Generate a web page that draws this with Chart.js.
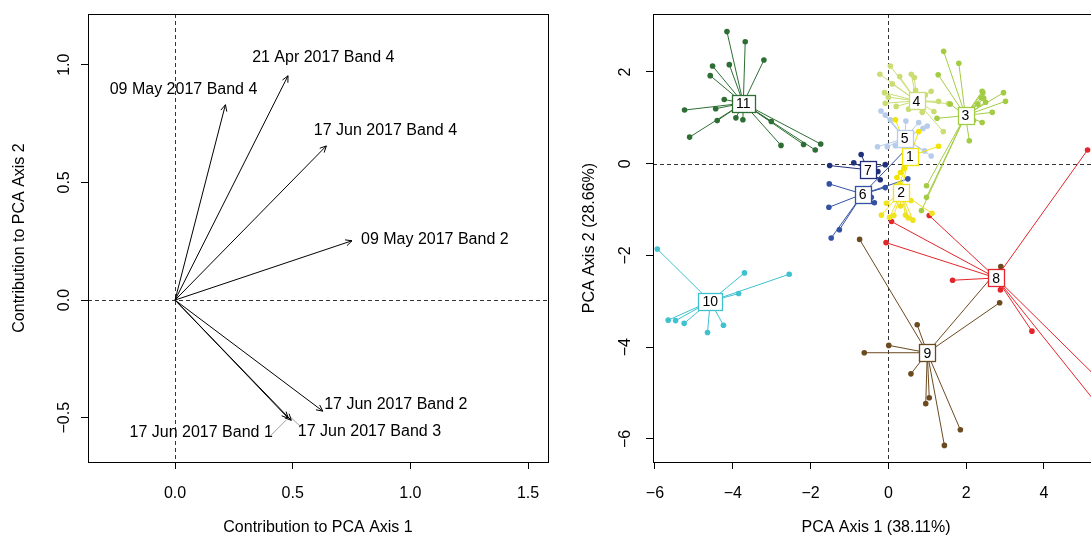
<!DOCTYPE html>
<html>
<head>
<meta charset="utf-8">
<script src="https://cdn.jsdelivr.net/npm/chart.js@4.4.1/dist/chart.umd.min.js"></script>
<style>
  html, body { margin: 0; padding: 0; background: #fff; overflow: hidden; width: 1091px; height: 538px; }
  #wrapL { position: absolute; left: 0; top: 0; width: 565px; height: 538px; }
  #wrapR { position: absolute; left: 565px; top: 0; width: 565px; height: 538px; }
</style>
</head>
<body>
<div id="wrapL"><canvas id="loadings" width="565" height="538"></canvas></div>
<div id="wrapR"><canvas id="scores" width="565" height="538"></canvas></div>

<script>
// ---- left panel: band loadings ----
const bandNames = ['21 Apr 2017 Band 4', '09 May 2017 Band 4', '17 Jun 2017 Band 4', '09 May 2017 Band 2',
                   '17 Jun 2017 Band 2', '17 Jun 2017 Band 3', '17 Jun 2017 Band 1']
const loadX = [0.480, 0.214, 0.643, 0.752, 0.628, 0.494, 0.481]
const loadY = [0.953, 0.830, 0.655, 0.252, -0.472, -0.511, -0.502]
const labelX = [0.630, 0.036, 0.894, 1.104, 0.938, 0.826, 0.111]
const labelY = [1.030, 0.894, 0.719, 0.255, -0.443, -0.560, -0.562]
// little leader lines next to the crowded labels (from, to)
const leaderX = [[0.408, 0.472], [0.489, 0.531]]
const leaderY = [[-0.574, -0.510], [-0.496, -0.535]]
const loadTicksX = [0, 0.5, 1, 1.5]
const loadTicksY = [-0.5, 0, 0.5, 1]

// ---- right panel: site scores by cluster ----
const clusterIds = ['1', '2', '3', '4', '5', '6', '7', '8', '9', '10', '11']
const clusterColors = ['#F2E400', '#EFE21F', '#A3CC44', '#C9DD73', '#B7CBEB', '#3352A3', '#22307A',
                       '#E3262B', '#6B4A1F', '#3FC1CF', '#2E6E34']
const centX = [0.55, 0.33, 1.98, 0.72, 0.42, -0.66, -0.53, 2.77, 1.00, -4.58, -3.73]
const centY = [0.16, -0.63, 1.05, 1.37, 0.55, -0.66, -0.13, -2.49, -4.12, -3.00, 1.32]

const c1x = [0.18, 0.78, 1.29, 0.31, 0.28, 0.33, 0.22, 0.40]
const c1y = [0.96, 0.70, 0.38, -0.19, -0.45, -0.55, -0.30, -0.10]
const c2x = [-0.05, -0.18, 0.03, 0.14, 0.31, 0.44, 0.51, 0.63, 0.58, 1.12]
const c2y = [-0.86, -1.12, -1.17, -1.13, -0.92, -1.12, -1.18, -1.23, -0.80, -1.08]
const c3x = [1.42, 1.81, 1.28, 2.41, 2.96, 3.01, 2.45, 2.30, 2.67, 2.41, 2.19, 1.25, 1.59, 2.08, 2.43, 2.39, 2.50, 0.98, 0.98, 0.85]
const c3y = [2.45, 2.19, 1.94, 1.58, 1.55, 1.36, 1.43, 1.30, 1.12, 0.90, 0.94, 0.99, 1.30, 0.50, 1.55, 1.44, 1.34, -0.48, -0.73, -1.02]
const c4x = [0.05, -0.22, 0.29, 0.59, 0.67, 0.10, 1.10, 0.95, -0.08, 0.52, 1.29, 1.55, 0.87, 1.17, 1.41, -0.10, 0.00, 0.20, 0.70]
const c4y = [2.13, 1.95, 1.90, 1.95, 1.88, 1.74, 1.58, 1.50, 1.32, 1.19, 1.36, 1.31, 1.12, 1.14, 0.70, 1.55, 1.45, 1.25, 1.60]
const c5x = [-0.19, -0.08, 0.05, 0.45, 0.78, 1.00, 0.89, -0.28, -0.03, 0.18, 0.58, 0.93, 1.10]
const c5y = [1.15, 1.06, 0.96, 0.93, 0.90, 0.82, 0.77, 0.37, 0.37, 0.39, 0.35, 0.28, 0.17]
const c6x = [-1.52, -1.53, -0.36, -0.44, -1.26, -1.47, 0.50, 0.55, -0.08]
const c6y = [-0.44, -0.95, -0.85, -0.73, -1.44, -1.62, -0.33, 0.40, -0.52]
const c7x = [-0.70, -0.89, -1.51, -0.08, -0.27, -0.21]
const c7y = [0.20, 0.02, -0.04, -0.02, -0.17, -0.35]
const c8x = [5.12, 1.05, 0.08, -0.06, 1.65, 2.88, 3.69, 5.60, 5.60]
const c8y = [0.30, -1.13, -1.26, -1.72, -2.54, -2.75, -3.65, -4.86, -5.49]
const c9x = [-0.74, 0.74, 0.01, -0.62, 0.58, 1.05, 0.96, 1.85, 1.44, 2.86, 2.89]
const c9y = [-1.65, -3.51, -3.96, -4.12, -4.58, -5.10, -5.23, -5.80, -6.14, -3.03, -2.24]
const c10x = [-5.94, -3.70, -2.55, -3.85, -5.66, -5.47, -5.25, -4.65, -4.24]
const c10y = [-1.86, -2.38, -2.41, -2.83, -3.41, -3.42, -3.48, -3.68, -3.52]
const c11x = [-4.15, -3.68, -3.20, -4.52, -4.09, -4.58, -4.22, -5.24, -4.44, -4.40, -3.92, -3.74, -5.11, -3.01, -2.76, -2.18, -1.88, -1.74]
const c11y = [2.88, 2.66, 2.26, 2.13, 2.16, 1.92, 1.40, 1.17, 1.20, 0.94, 1.00, 0.96, 0.58, 0.92, 0.40, 0.42, 0.30, 0.43]

const clusterX = [c1x, c2x, c3x, c4x, c5x, c6x, c7x, c8x, c9x, c10x, c11x]
const clusterY = [c1y, c2y, c3y, c4y, c5y, c6y, c7y, c8y, c9y, c10y, c11y]
const scoreTicksX = [-6, -4, -2, 0, 2, 4]
const scoreTicksY = [-6, -4, -2, 0, 2]

const FAMILY = '"Liberation Sans", Arial, Helvetica, sans-serif'
const FONT = { family: FAMILY, size: 16 }

function minus(s) { return s.replace('-', '\u2212') }

// R style box round the plot + dashed zero lines
const frame = {
  id: 'frame',
  beforeDatasetsDraw(chart) {
    const { ctx, chartArea: a, scales: { x, y } } = chart
    ctx.save()
    ctx.strokeStyle = '#333'
    ctx.lineWidth = 1
    ctx.setLineDash([4, 3])
    ctx.beginPath()
    const zx = Math.round(x.getPixelForValue(0)) + 0.5
    const zy = Math.round(y.getPixelForValue(0)) + 0.5
    ctx.moveTo(zx, a.top); ctx.lineTo(zx, a.bottom)
    ctx.moveTo(a.left, zy); ctx.lineTo(a.right, zy)
    ctx.stroke()
    ctx.restore()
  },
  afterDraw(chart) {
    const { ctx, chartArea: a } = chart
    ctx.save()
    ctx.strokeStyle = '#000'
    ctx.lineWidth = 1
    ctx.strokeRect(Math.round(a.left) + 0.5, Math.round(a.top) + 0.5,
                   Math.round(a.right - a.left), Math.round(a.bottom - a.top))
    ctx.restore()
  }
}

function axes(xmin, xmax, ymin, ymax, xt, yt, xTitle, yTitle, fmt, yTitlePad, yTickPad) {
  const grid = { drawOnChartArea: false, drawTicks: true, tickLength: 7, color: '#000' }
  return {
    x: {
      type: 'linear', min: xmin, max: xmax,
      afterBuildTicks: s => { s.ticks = xt.map(v => ({ value: v })) },
      afterFit: s => { s.height = 76; s.paddingLeft = 0; s.paddingRight = 0 },
      ticks: { font: FONT, color: '#000', padding: 15, maxRotation: 0, callback: v => minus(fmt(v)) },
      grid: grid, border: { display: false },
      title: { display: true, text: xTitle, font: FONT, color: '#000', padding: { top: 0, bottom: 1 } }
    },
    y: {
      type: 'linear', min: ymin, max: ymax,
      afterBuildTicks: s => { s.ticks = yt.map(v => ({ value: v })) },
      afterFit: s => { s.width = 88; s.paddingTop = 0; s.paddingBottom = 0 },
      ticks: { font: FONT, color: '#000', padding: yTickPad, minRotation: 90, maxRotation: 90, crossAlign: 'center',
               callback: v => minus(fmt(v)) },
      grid: grid, border: { display: false },
      title: { display: true, text: yTitle, font: FONT, color: '#000', padding: { top: yTitlePad, bottom: 0 } }
    }
  }
}

// ---------- left chart ----------
const arrowData = []
for (let i = 0; i < loadX.length; i++) {
  arrowData.push({ x: 0, y: 0 }, { x: loadX[i], y: loadY[i] }, { x: 0, y: NaN })
}
const leaderData = []
for (let i = 0; i < leaderX.length; i++) {
  leaderData.push({ x: leaderX[i][0], y: leaderY[i][0] }, { x: leaderX[i][1], y: leaderY[i][1] }, { x: 0, y: NaN })
}

const arrowHeads = {
  id: 'arrowHeads',
  afterDatasetsDraw(chart) {
    const { ctx, scales: { x, y } } = chart
    const ox = x.getPixelForValue(0), oy = y.getPixelForValue(0)
    ctx.save()
    ctx.strokeStyle = '#000'
    ctx.lineWidth = 1
    for (let i = 0; i < loadX.length; i++) {
      const tx = x.getPixelForValue(loadX[i]), ty = y.getPixelForValue(loadY[i])
      const ang = Math.atan2(ty - oy, tx - ox)
      ctx.beginPath()
      ctx.moveTo(tx - 7 * Math.cos(ang - 0.45), ty - 7 * Math.sin(ang - 0.45))
      ctx.lineTo(tx, ty)
      ctx.lineTo(tx - 7 * Math.cos(ang + 0.45), ty - 7 * Math.sin(ang + 0.45))
      ctx.stroke()
    }
    ctx.fillStyle = '#000'
    ctx.font = FONT.size + 'px ' + FAMILY
    ctx.textAlign = 'center'
    ctx.textBaseline = 'middle'
    for (let i = 0; i < bandNames.length; i++) {
      ctx.fillText(bandNames[i], x.getPixelForValue(labelX[i]), y.getPixelForValue(labelY[i]))
    }
    ctx.restore()
  }
}

new Chart(document.getElementById('loadings'), {
  type: 'scatter',
  data: {
    datasets: [
      { data: arrowData, showLine: true, spanGaps: false, borderColor: '#000', borderWidth: 1, pointRadius: 0 },
      { data: leaderData, showLine: true, spanGaps: false, borderColor: '#8a8a8a', borderWidth: 0.8, pointRadius: 0 }
    ]
  },
  options: {
    responsive: false,
    animation: false,
    layout: { padding: { top: 14, left: 0, right: 17, bottom: 0 } },
    plugins: { legend: { display: false }, tooltip: { enabled: false } },
    scales: axes(-0.370, 1.585, -0.688, 1.2155, loadTicksX, loadTicksY,
                 'Contribution to PCA Axis 1', 'Contribution to PCA Axis 2', v => v.toFixed(1), 10, 1)
  },
  plugins: [frame, arrowHeads]
})

// ---------- right chart ----------
const scoreSets = []
for (let k = 0; k < clusterIds.length; k++) {
  const spokes = []
  const pts = []
  for (let i = 0; i < clusterX[k].length; i++) {
    spokes.push({ x: centX[k], y: centY[k] }, { x: clusterX[k][i], y: clusterY[k][i] }, { x: centX[k], y: NaN })
    pts.push({ x: clusterX[k][i], y: clusterY[k][i] })
  }
  scoreSets.push({ data: spokes, showLine: true, spanGaps: false, borderColor: clusterColors[k], borderWidth: 1, pointRadius: 0 })
  scoreSets.push({ data: pts, pointRadius: 2.8, pointBackgroundColor: clusterColors[k], pointBorderWidth: 0 })
}

const centroidBoxes = {
  id: 'centroidBoxes',
  afterDatasetsDraw(chart) {
    const { ctx, scales: { x, y } } = chart
    ctx.save()
    ctx.font = '14px ' + FAMILY
    ctx.textAlign = 'center'
    ctx.textBaseline = 'middle'
    for (let k = 0; k < clusterIds.length; k++) {
      const px = x.getPixelForValue(centX[k]), py = y.getPixelForValue(centY[k])
      const w = ctx.measureText(clusterIds[k]).width + 8, h = 17
      const bx = Math.round(px - w / 2) + 0.5, by = Math.round(py - h / 2) + 0.5
      ctx.fillStyle = '#fff'
      ctx.fillRect(bx, by, Math.round(w), h)
      ctx.strokeStyle = clusterColors[k]
      ctx.lineWidth = 1.3
      ctx.strokeRect(bx, by, Math.round(w), h)
      ctx.fillStyle = '#000'
      ctx.fillText(clusterIds[k], px, py + 1)
    }
    ctx.restore()
  }
}

new Chart(document.getElementById('scores'), {
  type: 'scatter',
  data: { datasets: scoreSets },
  options: {
    responsive: false,
    animation: false,
    layout: { padding: { top: 14, left: 0, right: 31, bottom: 0 } },
    plugins: { legend: { display: false }, tooltip: { enabled: false } },
    scales: axes(-6.051, 5.414, -6.502, 3.264, scoreTicksX, scoreTicksY,
                 'PCA Axis 1 (38.11%)', 'PCA Axis 2 (28.66%)', v => String(v), 15, 11)
  },
  plugins: [frame, centroidBoxes]
})
</script>
</body>
</html>
